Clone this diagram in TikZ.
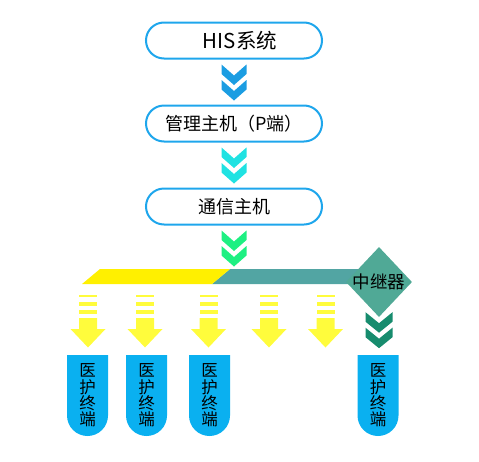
\documentclass[tikz,border=0pt]{standalone}
\usepackage{fontspec}
\setmainfont{Noto Sans CJK SC}
\usetikzlibrary{shapes,arrows,positioning,calc}

\definecolor{boxline}{RGB}{30,166,236}
\definecolor{chevblue}{RGB}{27,157,226}
\definecolor{chevcyan}{RGB}{32,226,226}
\definecolor{chevgreen}{RGB}{30,240,130}
\definecolor{chevdark}{RGB}{23,140,110}
\definecolor{baryellow}{RGB}{255,240,0}
\definecolor{barteal}{RGB}{82,165,163}
\definecolor{relaygreen}{RGB}{80,169,150}
\definecolor{arrowyellow}{RGB}{255,252,60}
\definecolor{termblue}{RGB}{10,176,240}

\tikzset{
  chevrons/.pic={
    \fill[pic actions] (-12.5,0) -- (0,11) -- (12.5,0) -- (12.5,9.5) -- (0,20.5) -- (-12.5,9.5) -- cycle;
    \fill[pic actions] (-12.5,15.5) -- (0,26.5) -- (12.5,15.5) -- (12.5,25) -- (0,36) -- (-12.5,25) -- cycle;
  },
  downarrow/.pic={
    \fill[arrowyellow] (-9,0) rectangle (9,2);
    \fill[arrowyellow] (-9,7) rectangle (9,10.5);
    \fill[arrowyellow] (-9,15) rectangle (9,19);
    \fill[arrowyellow] (-9,23) -- (9,23) -- (9,34) -- (17.5,34) -- (0,52.5) -- (-17.5,34) -- (-9,34) -- cycle;
  },
  terminal/.pic={
    \fill[termblue] (-20.5,0) -- (20.5,0) -- (20.5,60.5) arc[start angle=0, end angle=180, radius=20.5] -- cycle;
    \node (-text) at (0,40.5) [align=center, font=\fontsize{16.5}{16.3}\selectfont] {医\\护\\终\\端};
  }
}

\begin{document}
\begin{tikzpicture}[x=1pt, y=-1pt, node distance=45pt,
    box/.style={draw=boxline, line width=2pt, rounded corners=18pt, minimum width=176pt, minimum height=36pt, inner sep=0pt, font=\fontsize{18}{18}\selectfont},
    relay/.style={diamond, fill=relaygreen, minimum width=66pt, minimum height=70pt, inner sep=0pt, font=\fontsize{17.5}{17.5}\selectfont}]
    \useasboundingbox (0,0) rectangle (479,461);

    \node (his) [box] at (234,40.5) {\hspace{12pt}\fontsize{20.5}{20}\selectfont HIS系统};
    \node (host) [box, below=of his] {管理主机（P端）};
    \node (comm) [box, below=of host] {通信主机};

    \pic [fill=chevblue] at ($(his.south)+(0,5)$) {chevrons};
    \pic [fill=chevcyan] at ($(host.south)+(0,5)$) {chevrons};
    \pic [fill=chevgreen] at ($(comm.south)+(0,5)$) {chevrons};

    % bus bar
    \fill[barteal] (230,269) -- (362,269) -- (362,284) -- (212,284) -- cycle;
    \fill[baryellow] (100,269) -- (230,269) -- (212,284) -- (82,284) -- cycle;

    \node (relay) [relay] at (379,282) {\makebox[0pt]{\raisebox{1pt}{中继器}}};
    \pic [fill=chevdark, xscale=1.08] at ($(relay.south)+(0,-5)$) {chevrons};

    \pic at (88,295) {downarrow};
    \pic at (145,295) {downarrow};
    \pic at (208.5,295) {downarrow};
    \pic at (269,295) {downarrow};
    \pic at (325.5,295) {downarrow};

    \pic (term1) at (87.5,355) {terminal};
    \pic (term2) at (146.5,355) {terminal};
    \pic (term3) at (209.5,355) {terminal};
    \pic (term4) at (378,355) {terminal};
\end{tikzpicture}
\end{document}
